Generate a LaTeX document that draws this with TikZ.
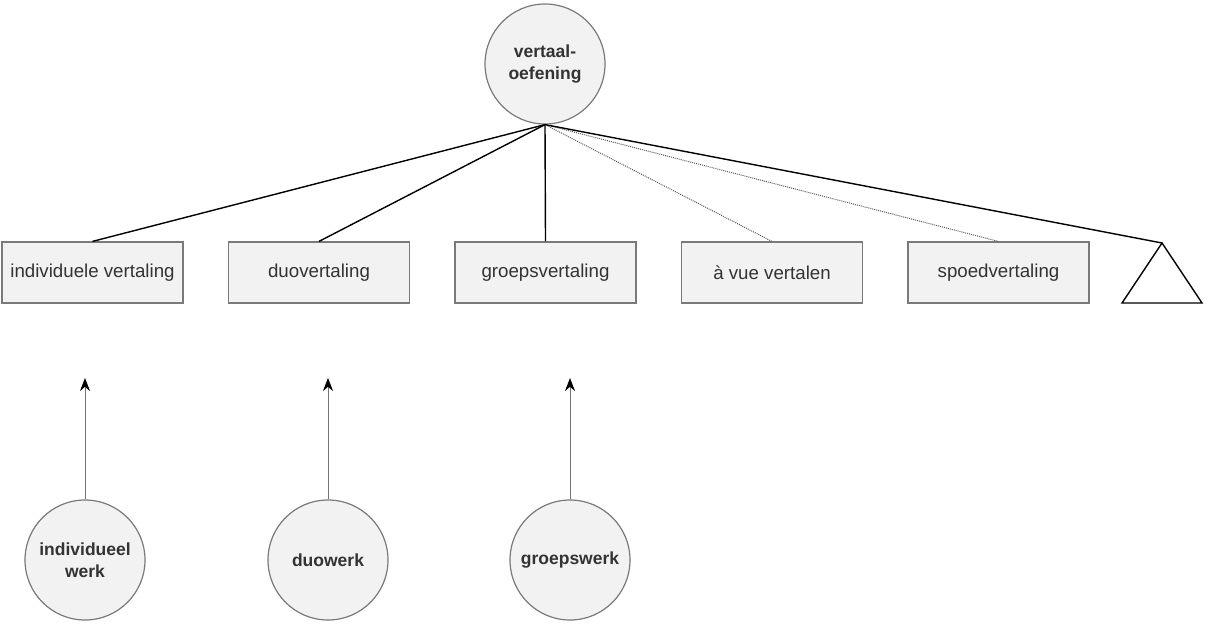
\documentclass[tikz,border=0pt]{standalone}
\usepackage{fontspec}
\setmainfont{Liberation Sans}
\usetikzlibrary{arrows.meta}
\definecolor{vulgrijs}{HTML}{F2F2F2}
\definecolor{randgrijs}{HTML}{7A7A7A}
\definecolor{tekstgrijs}{HTML}{333333}
\tikzset{
  vak/.style={draw=randgrijs,line width=1.2pt,fill=vulgrijs,minimum width=181pt,
    minimum height=61pt,inner sep=0pt,text=tekstgrijs,font=\fontsize{18.7}{21}\selectfont},
  bol/.style={circle,draw=randgrijs,line width=1.2pt,fill=vulgrijs,minimum size=120pt,
    inner sep=0pt,align=center,text=tekstgrijs,font=\fontsize{17.5}{22}\selectfont\bfseries},
  tak/.style={line width=1.4pt},
  stippel/.style={line width=1pt,draw=black!65,dash pattern=on 1pt off 1pt},
  pijl/.style={draw=black!55,line width=1pt,-{Stealth[length=13pt,width=10pt,black]}}
}
\begin{document}
\begin{tikzpicture}[x=1pt,y=-1pt]
\useasboundingbox (0,0) rectangle (1212,626);
% bovenste begrip
\node[bol] (oefening) at (545,64) {vertaal-\\oefening};
% soorten vertaling
\node[vak] (indiv) at (92.5,272.5) {individuele vertaling};
\node[vak] (duo) at (319,272.5) {duovertaling};
\node[vak] (groep) at (545.5,272.5) {groepsvertaling};
\node[vak] (avue) at (772,272.5) {à vue vertalen};
\node[vak] (spoed) at (998.5,272.5) {spoedvertaling};
\coordinate (top) at (1162,243);
\draw[line width=1.4pt,line join=miter] (top) -- (1202,303) -- (1122,303) -- cycle;
\draw[tak] (oefening.south) -- (indiv.north);
\draw[tak] (oefening.south) -- (duo.north);
\draw[tak] (oefening.south) -- (groep.north);
\draw[stippel] (oefening.south) -- (avue.north);
\draw[stippel] (oefening.south) -- (spoed.north);
\draw[tak] (oefening.south) -- (top);
% werkvormen
\node[bol] (indivwerk) at (85,560) {individueel\\werk};
\node[bol] (duowerk) at (328,560) {duowerk};
\node[bol] (groepwerk) at (570,560) {groepswerk};
\coordinate (p1) at (85,378);
\coordinate (p2) at (328,378);
\coordinate (p3) at (570,378);
\draw[pijl] (indivwerk.north) -- (p1);
\draw[pijl] (duowerk.north) -- (p2);
\draw[pijl] (groepwerk.north) -- (p3);
\end{tikzpicture}
\end{document}
